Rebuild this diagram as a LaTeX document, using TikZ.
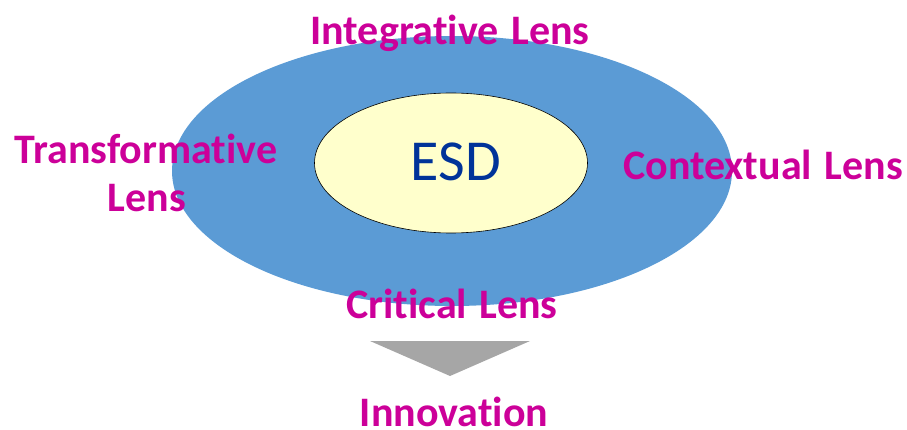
\documentclass[tikz,border=0pt]{standalone}
\usepackage{fontspec}
\setmainfont[Ligatures={NoCommon}]{Carlito}
\usetikzlibrary{shapes.geometric}
\definecolor{outerblue}{HTML}{5B9BD5}
\definecolor{innerfill}{HTML}{FFFFCC}
\definecolor{esdblue}{HTML}{003399}
\definecolor{lensmag}{HTML}{CC0099}
\definecolor{arrowgray}{HTML}{A6A6A6}
\begin{document}
\begin{tikzpicture}[x=1pt,y=-1pt,
  lens/.style={text=lensmag,font=\fontsize{42}{46}\selectfont\bfseries,inner sep=0pt,anchor=base},
  outerring/.style={ellipse,fill=outerblue,draw=none,minimum width=560pt,minimum height=270pt,inner sep=0pt},
  core/.style={ellipse,fill=innerfill,draw=black,line width=0.6pt,minimum width=273pt,minimum height=140pt,inner sep=0pt},
  funnel/.style={fill=arrowgray,draw=none}]
\useasboundingbox (0,0) rectangle (907,430);
\node[outerring] (outer) at (452,171) {};
\node[core] (esd) at (451,163) {};
\node[text=esdblue,font=\fontsize{58}{60}\selectfont,anchor=base,inner sep=0pt] (esdlabel) at (456,181) {ESD};
\node[lens] (integ) at (450,45) {Integrative\hspace{3pt} Lens};
\node[lens] (transf) at (146,164) {Transformative};
\node[lens] (transf2) at (147,212) {Lens};
\node[lens] (context) at (763,180) {Contextual\hspace{3pt} Lens};
\node[lens] (critical) at (452,318) {Critical\hspace{3pt} Lens};
\coordinate (tl) at (370,341);
\coordinate (tr) at (530,341);
\coordinate (tb) at (450,376);
\fill[funnel] (tl) -- (tr) -- (tb) -- cycle;
\node[lens] (innov) at (454,426) {Innovation};
\end{tikzpicture}
\end{document}
